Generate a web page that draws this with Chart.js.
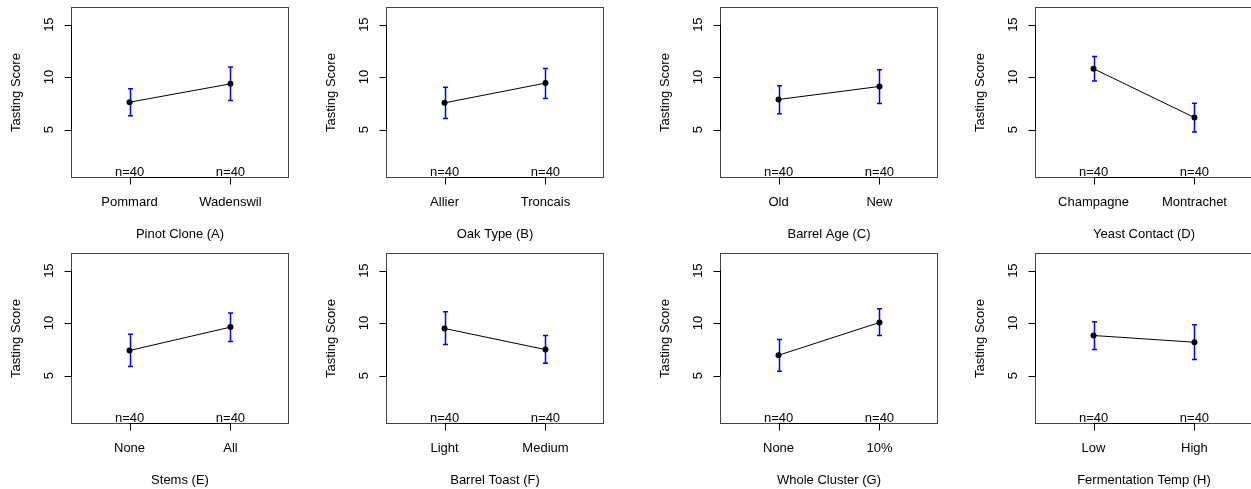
<!DOCTYPE html>
<html>
<head>
<meta charset="utf-8">
<script src="https://cdn.jsdelivr.net/npm/chart.js@4/dist/chart.umd.min.js"></script>
<style>
  html, body { margin: 0; padding: 0; background: #fff; }
  body { width: 1251px; height: 489px; position: relative; overflow: hidden; }
  canvas { position: absolute; }
</style>
</head>
<body>
<script>
// ---- data ----
const factorTitles = ["Pinot Clone (A)", "Oak Type (B)", "Barrel Age (C)", "Yeast Contact (D)",
                      "Stems (E)", "Barrel Toast (F)", "Whole Cluster (G)", "Fermentation Temp (H)"];
const levelLabels = [["Pommard", "Wadenswil"], ["Allier", "Troncais"], ["Old", "New"], ["Champagne", "Montrachet"],
                     ["None", "All"], ["Light", "Medium"], ["None", "10%"], ["Low", "High"]];
const meanScores = [[7.61, 9.36], [7.55, 9.43], [7.87, 9.11], [10.80, 6.15],
                    [7.39, 9.62], [9.49, 7.48], [6.94, 10.06], [8.82, 8.18]];
const lowerCI = [[6.31, 7.77], [6.05, 7.96], [6.50, 7.48], [9.62, 4.78],
                 [5.86, 8.25], [7.96, 6.18], [5.41, 8.82], [7.48, 6.53]];
const upperCI = [[8.89, 10.96], [9.04, 10.83], [9.17, 10.70], [11.97, 7.52],
                 [8.95, 10.96], [11.08, 8.82], [8.44, 11.37], [10.13, 9.84]];
const groupCounts = [[40, 40], [40, 40], [40, 40], [40, 40], [40, 40], [40, 40], [40, 40], [40, 40]];
const yTicks = [5, 10, 15];
const yAxisTitle = "Tasting Score";

// ---- layout ----
const boxLefts = [71, 386, 720, 1035];
const boxTops = [7, 253];
const BOX_W = 218, BOX_H = 171;
const PAD_L = 70, PAD_T = 7, PAD_R = 20, PAD_B = 72;
const FONT = "13px 'Liberation Sans', Arial, Helvetica, sans-serif";

const rStylePlugin = {
  id: 'rstyle',
  beforeDatasetsDraw(chart) {
    const ctx = chart.ctx, xs = chart.scales.x, ys = chart.scales.y;
    const i = chart.options.plugins.rstyle.idx;
    ctx.save();
    ctx.strokeStyle = '#0000ff';
    ctx.lineWidth = 1.5;
    for (let k = 0; k < 2; k++) {
      const x = Math.round(xs.getPixelForValue(k + 1)) + 0.5;
      const yl = ys.getPixelForValue(lowerCI[i][k]);
      const yu = ys.getPixelForValue(upperCI[i][k]);
      ctx.beginPath();
      ctx.moveTo(x, yl); ctx.lineTo(x, yu);
      ctx.moveTo(x - 2.5, yl); ctx.lineTo(x + 2.5, yl);
      ctx.moveTo(x - 2.5, yu); ctx.lineTo(x + 2.5, yu);
      ctx.stroke();
    }
    ctx.restore();
  },
  afterDraw(chart) {
    const ctx = chart.ctx, xs = chart.scales.x, ys = chart.scales.y;
    const a = chart.chartArea;
    const i = chart.options.plugins.rstyle.idx;
    ctx.save();
    // box
    ctx.strokeStyle = '#444';
    ctx.lineWidth = 1;
    ctx.strokeRect(a.left + 0.5, a.top + 0.5, a.right - a.left - 1, a.bottom - a.top - 1);
    // y axis
    ctx.strokeStyle = '#000';
    const yl = a.left + 0.5;
    ctx.beginPath();
    ctx.moveTo(yl, ys.getPixelForValue(yTicks[0]));
    ctx.lineTo(yl, ys.getPixelForValue(yTicks[yTicks.length - 1]));
    yTicks.forEach(t => {
      const py = Math.round(ys.getPixelForValue(t)) + 0.5;
      ctx.moveTo(yl, py); ctx.lineTo(yl - 7, py);
    });
    ctx.stroke();
    ctx.fillStyle = '#000';
    ctx.font = FONT;
    ctx.textAlign = 'center';
    ctx.textBaseline = 'middle';
    yTicks.forEach(t => {
      const py = ys.getPixelForValue(t);
      ctx.save();
      ctx.translate(a.left - 22, py);
      ctx.rotate(-Math.PI / 2);
      ctx.fillText(String(t), 0, 0);
      ctx.restore();
    });
    ctx.save();
    ctx.translate(a.left - 55, (a.top + a.bottom) / 2);
    ctx.rotate(-Math.PI / 2);
    ctx.fillText(yAxisTitle, 0, 0);
    ctx.restore();
    // x axis
    const xb = a.bottom - 0.5;
    ctx.beginPath();
    ctx.moveTo(xs.getPixelForValue(1), xb);
    ctx.lineTo(xs.getPixelForValue(2), xb);
    for (let k = 0; k < 2; k++) {
      const px = Math.round(xs.getPixelForValue(k + 1)) + 0.5;
      ctx.moveTo(px, xb); ctx.lineTo(px, xb + 7);
    }
    ctx.stroke();
    for (let k = 0; k < 2; k++) {
      const px = xs.getPixelForValue(k + 1);
      ctx.fillText(levelLabels[i][k], px, a.bottom + 24);
      ctx.fillText('n=' + groupCounts[i][k], px, a.bottom - 6);
    }
    ctx.fillText(factorTitles[i], (a.left + a.right) / 2, a.bottom + 56);
    ctx.restore();
  }
};

for (let i = 0; i < 8; i++) {
  const col = i % 4, row = Math.floor(i / 4);
  const cv = document.createElement('canvas');
  const w = PAD_L + BOX_W + PAD_R, h = PAD_T + BOX_H + PAD_B;
  cv.width = w; cv.height = h;
  cv.style.width = w + 'px'; cv.style.height = h + 'px';
  cv.style.left = (boxLefts[col] - PAD_L) + 'px';
  cv.style.top = (boxTops[row] - PAD_T) + 'px';
  document.body.appendChild(cv);
  new Chart(cv, {
    type: 'line',
    data: {
      datasets: [{
        data: [{ x: 1, y: meanScores[i][0] }, { x: 2, y: meanScores[i][1] }],
        borderColor: '#000',
        borderWidth: 1,
        pointRadius: 3,
        pointBackgroundColor: '#000',
        pointBorderColor: '#000',
        pointBorderWidth: 0,
        tension: 0,
        fill: false
      }]
    },
    options: {
      responsive: false,
      animation: false,
      devicePixelRatio: 1,
      layout: { padding: { left: PAD_L, top: PAD_T, right: PAD_R, bottom: PAD_B } },
      plugins: { legend: { display: false }, tooltip: { enabled: false }, rstyle: { idx: i } },
      scales: {
        x: { type: 'linear', min: 0.42, max: 2.58, display: false },
        y: { type: 'linear', min: 0.39, max: 16.68, display: false }
      }
    },
    plugins: [rStylePlugin]
  });
}
</script>
</body>
</html>
